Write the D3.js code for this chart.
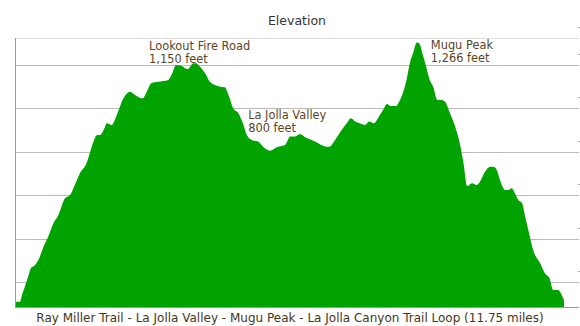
<!DOCTYPE html>
<html>
<head>
<meta charset="utf-8">
<script src="https://cdn.jsdelivr.net/npm/d3@7"></script>
<style>
  body { margin: 0; background: #fff; }
  text { font-family: "DejaVu Sans", sans-serif; }
</style>
</head>
<body>
<svg width="580" height="326"></svg>
<script>
// distance along the trail (miles) and elevation (feet)
var miles = [0.00, 0.11, 0.14, 0.21, 0.28, 0.34, 0.43, 0.50, 0.61, 0.71, 0.82, 0.93, 1.07, 1.18, 1.28, 1.39, 1.53, 1.61, 1.68, 1.76, 1.82, 1.93,
  1.96, 2.07, 2.18, 2.32, 2.46, 2.57, 2.73, 2.82, 2.93, 3.07, 3.28, 3.35, 3.45, 3.57, 3.69, 3.82,
  3.87, 3.96, 4.07, 4.17, 4.28, 4.39, 4.49, 4.57, 4.67, 4.78, 4.89, 4.96, 5.07, 5.21, 5.31, 5.46, 5.60, 5.71, 5.78,
  5.89, 5.99, 6.10, 6.21, 6.35, 6.49, 6.60, 6.73, 6.85, 6.99, 7.10, 7.19, 7.28, 7.38, 7.49, 7.58,
  7.68, 7.78, 7.88, 7.96, 8.04, 8.15, 8.24, 8.31, 8.38, 8.45, 8.53, 8.60, 8.65, 8.73, 8.80, 8.87, 8.95, 9.04, 9.13, 9.20, 9.31, 9.42, 9.52,
  9.60, 9.68, 9.78, 9.88, 9.95, 10.06, 10.17, 10.24, 10.31, 10.38, 10.49, 10.56, 10.63, 10.70, 10.77, 10.85, 10.92, 11.02, 11.09, 11.24, 11.34, 11.44, 11.52, 11.63, 11.70, 11.75];
var feet = [109, 109, 132, 178, 224, 263, 278, 301, 363, 409, 470, 509, 586, 601, 647, 701, 747, 800, 847, 877, 877, 916,
  931, 923, 970, 1046, 1077, 1062, 1046, 1077, 1118, 1123, 1131, 1154, 1200, 1195, 1180, 1208,
  1208, 1192, 1162, 1123, 1108, 1100, 1097, 1062, 1000, 977, 923, 877, 854, 846, 823, 805, 821, 827, 831,
  870, 870, 882, 867, 854, 839, 827, 823, 854, 900, 931, 954, 939, 931, 923, 939,
  931, 959, 993, 1020, 1011, 1011, 1039, 1077, 1131, 1208, 1261, 1303, 1300, 1246, 1192, 1134, 1100, 1039, 1039, 1031, 977, 916, 839,
  747, 642, 655, 647, 662, 708, 731, 731, 716, 670, 624, 624, 632, 609, 578, 565, 501, 409, 347, 286, 240, 217, 163, 163, 140, 117];

var gridFeet = [200, 400, 600, 800, 1000, 1200];

var labelNames = ["Lookout Fire Road", "La Jolla Valley", "Mugu Peak"];
var labelFeet = ["1,150 feet", "800 feet", "1,266 feet"];
var labelMiles = [2.87, 4.99, 8.90];
var labelTop = [46, 115, 45];

var data = miles.map(function(m, i) { return {mi: m, ft: feet[i]}; });

var svg = d3.select("svg"),
    plotLeft = 15, plotRight = 579, plotTop = 38, plotBottom = 307;

var x = d3.scaleLinear().domain([0, 11.75]).range([plotLeft, 564]),
    y = d3.scaleLinear().domain([85, 1324]).range([plotBottom, plotTop]);

// top border
svg.append("line")
    .attr("x1", plotLeft).attr("x2", plotRight)
    .attr("y1", plotTop + 0.5).attr("y2", plotTop + 0.5)
    .attr("stroke", "#dddddd");

// grid lines
svg.append("g").selectAll("line")
  .data(gridFeet)
  .enter().append("line")
    .attr("x1", plotLeft).attr("x2", plotRight)
    .attr("y1", function(d) { return Math.round(y(d)) + 0.5; })
    .attr("y2", function(d) { return Math.round(y(d)) + 0.5; })
    .attr("stroke", "#bbbbbb");

// little clipped tick marks at the right edge
svg.append("g").selectAll("rect")
  .data(gridFeet.concat([1324]))
  .enter().append("rect")
    .attr("x", 578).attr("width", 2).attr("height", 1)
    .attr("y", function(d) { return Math.round(y(d)) - 11; })
    .attr("fill", "#aaaaaa");

var area = d3.area()
    .x(function(d) { return x(d.mi); })
    .y0(plotBottom)
    .y1(function(d) { return y(d.ft); })
    .curve(d3.curveMonotoneX);

svg.append("path")
    .datum(data)
    .attr("fill", "#00a300")
    .attr("d", area);

// axis lines
svg.append("line")
    .attr("x1", plotLeft + 0.5).attr("x2", plotLeft + 0.5)
    .attr("y1", plotTop).attr("y2", plotBottom)
    .attr("stroke", "#999999");
svg.append("line")
    .attr("x1", plotLeft).attr("x2", plotRight)
    .attr("y1", plotBottom + 0.5).attr("y2", plotBottom + 0.5)
    .attr("stroke", "#999999");

// annotations
var ann = svg.append("g").selectAll("text")
  .data(labelNames)
  .enter().append("text")
    .attr("x", function(d, i) { return x(labelMiles[i]); })
    .attr("y", function(d, i) { return labelTop[i] + 4; })
    .attr("font-size", "11.4px")
    .attr("fill", "#5a4426");
ann.append("tspan").text(function(d) { return d; });
ann.append("tspan")
    .attr("x", function(d, i) { return x(labelMiles[i]); })
    .attr("dy", "1.15em")
    .text(function(d, i) { return labelFeet[i]; });

svg.append("text")
    .attr("x", 297).attr("y", 25)
    .attr("text-anchor", "middle")
    .attr("font-size", "12.5px")
    .attr("fill", "#333333")
    .text("Elevation");

svg.append("text")
    .attr("x", 290).attr("y", 322)
    .attr("text-anchor", "middle")
    .attr("font-size", "12px")
    .attr("fill", "#4a3520")
    .text("Ray Miller Trail - La Jolla Valley - Mugu Peak - La Jolla Canyon Trail Loop (11.75 miles)");
</script>
</body>
</html>
